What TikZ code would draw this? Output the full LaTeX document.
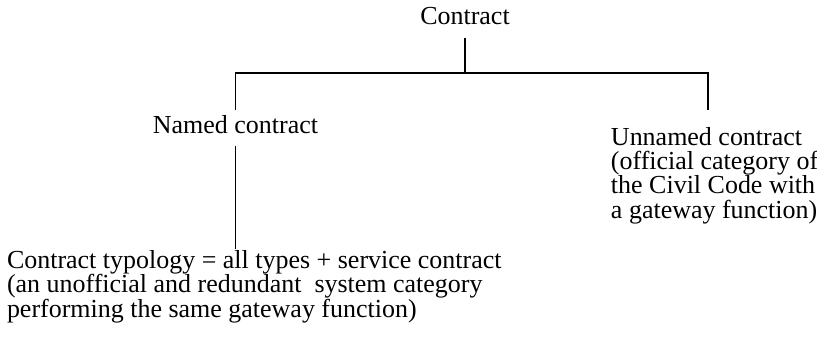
\documentclass[tikz,border=0pt]{standalone}
\usepackage{fontspec}
\setmainfont{Liberation Serif}
\usetikzlibrary{positioning,calc}

\begin{document}
\begin{tikzpicture}[
  x=0.385pt,y=-0.385pt,
  font=\fontsize{10}{9.25}\selectfont,
  lbl/.style={inner sep=0pt,outer sep=0pt},
  note/.style={lbl,align=left,anchor=base west},
  link/.style={line width=0.75pt,line cap=butt}
]
\useasboundingbox (0,0) rectangle (817,339);

\node[lbl,anchor=base] (contract) at (465,24) {Contract};
\node[lbl,anchor=base] (named) at (235.5,133) {Named contract};
\node[note] (unnamed) at (611,218)
  {Unnamed contract\\
   (official category of\\
   the Civil Code with\\
   a gateway function)};
\node[note] (typology) at (7,317)
  {Contract typology = all types + service contract\\
   (an unofficial and redundant~ system category\\
   performing the same gateway function)};

% branch points
\coordinate (join) at (466,73);
\coordinate (rleg) at (708,110);

\draw[link,shorten <=5.4pt] (contract.south) -- (contract.south |- join);
\draw[link,shorten >=2pt] (join) -| (named.north);
\draw[link] (join) -| (rleg);
\draw[link,shorten <=4.8pt,shorten >=0.8pt] (named.south) -- (named.south |- typology.north);
\end{tikzpicture}
\end{document}
